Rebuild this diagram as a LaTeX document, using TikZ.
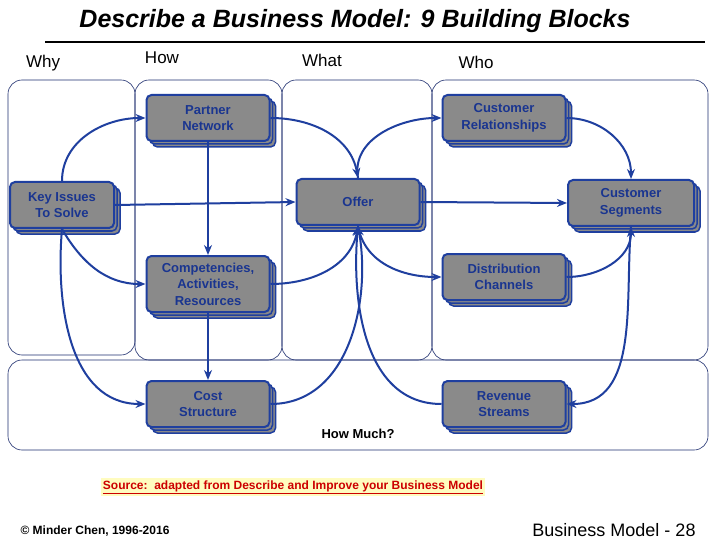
\documentclass[tikz,border=0pt]{standalone}
\usepackage{fontspec}
\setmainfont{Liberation Sans}
\usetikzlibrary{shadows,arrows.meta}
\definecolor{bb}{HTML}{1F3F9F}
\definecolor{tb}{HTML}{1A3590}
\definecolor{gb}{HTML}{8A8A8A}
\definecolor{pl}{HTML}{1F2F6F}
\begin{document}
\begin{tikzpicture}[x=1pt,y=-1pt,
 blk/.style={draw=bb,line width=2pt,fill=gb,rounded corners=5pt,minimum width=123pt,minimum height=46pt,inner sep=1pt,align=center,text=tb,font=\bfseries\fontsize{13}{16.5}\selectfont,
  double copy shadow={shadow xshift=3pt,shadow yshift=-3pt,draw=bb,fill=gb,line width=1.5pt}},
 pan/.style={draw=pl,line width=0.6pt,rounded corners=14pt},
 con/.style={draw=bb,line width=2pt,-{Stealth[length=10pt,width=8pt]}},
 lab/.style={font=\fontsize{17}{19}\selectfont}]
\useasboundingbox (0,0) rectangle (720,540);
\fill[white] (0,0) rectangle (720,540);
% title
\node[font=\bfseries\itshape\fontsize{25}{28}\selectfont] (title) at (355,21) {Describe a Business Model: 9 Building Blocks};
\draw[line width=1.8pt] (45,42) -- (705,42);
\node[lab] (why) at (43,63) {Why};
\node[lab] (how) at (162,58) {How};
\node[lab] (what) at (322,60) {What};
\node[lab] (who) at (476,62) {Who};
% panels
\draw[pan] (8,80) rectangle (135,355);
\draw[pan] (135,80) rectangle (282,360);
\draw[pan] (282,80) rectangle (432,360);
\draw[pan] (432,80) rectangle (708,360);
\draw[pan] (8,360) rectangle (708,450);
% blocks
\node[blk] (pn) at (208,118) {Partner\\Network};
\node[blk] (cr) at (504,118) {Customer\\Relationships};
\node[blk,minimum width=104pt] (ki) at (62,205) {Key Issues\\To Solve};
\node[blk] (of) at (358,202) {Offer};
\node[blk,minimum width=126pt] (cs) at (631,203) {Customer\\Segments};
\node[blk,minimum height=56pt] (ca) at (208,284) {Competencies,\\Activities,\\Resources};
\node[blk] (dc) at (504,277) {Distribution\\Channels};
\node[blk] (co) at (208,404) {Cost\\Structure};
\node[blk] (rs) at (504,404) {Revenue\\Streams};
\node[font=\bfseries\fontsize{13}{15}\selectfont] (hm) at (358,434) {How Much?};
% connectors
\draw[con] (ki.north) to[out=90,in=180] (pn.west);
\draw[con] (ki.east) -- (of.west);
\draw[con] (ki.south) to[out=-60,in=180] (ca.west);
\draw[con] (ki.south) to[out=-95,in=180] (co.west);
\draw[con] (pn.south) -- (ca.north);
\draw[con] (ca.south) -- (co.north);
\draw[con] (pn.east) to[out=0,in=100] (of.north);
\draw[con] (of.north) to[out=100,in=180] (cr.west);
\draw[con] (cr.east) to[out=0,in=90] (cs.north);
\draw[con] (of.east) -- (cs.west);
\draw[con] (ca.east) to[out=0,in=-100] (of.south);
\draw[con] (co.east) to[out=0,in=-80] (of.south);
\draw[con] (rs.west) to[out=180,in=-95] (of.south);
\draw[con] (of.south) to[out=-80,in=180] (dc.west);
\draw[con] (dc.east) to[out=0,in=-90] (cs.south);
\draw[con] (cs.south) to[out=-95,in=0] (rs.east);
% source
\node[fill=yellow!25,text=red!80!black,font=\bfseries\fontsize{12}{14}\selectfont,inner sep=2pt] (src) at (293,487) {\underline{Source:\ \ adapted from Describe and Improve your Business Model}};
\node[font=\bfseries\fontsize{12}{14}\selectfont] (cp) at (95,531) {© Minder Chen, 1996-2016};
\node[font=\fontsize{18}{20}\selectfont] (bm) at (614,530) {Business Model - 28};
\end{tikzpicture}
\end{document}
